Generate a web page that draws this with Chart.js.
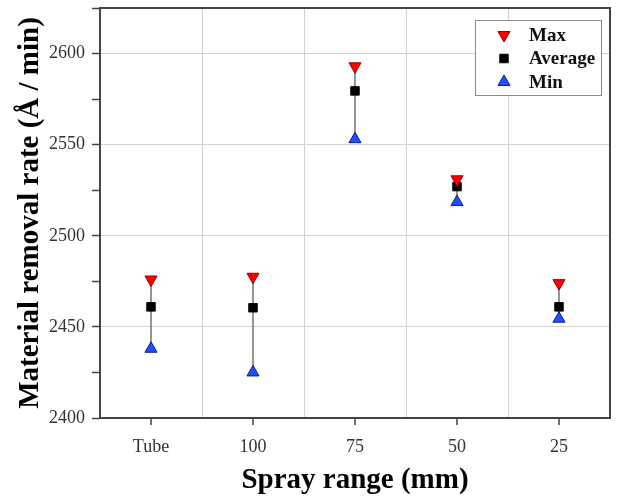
<!DOCTYPE html>
<html>
<head>
<meta charset="utf-8">
<script src="https://cdn.jsdelivr.net/npm/chart.js@4/dist/chart.umd.min.js"></script>
<style>
  html, body { margin:0; padding:0; background:#fff; overflow:hidden; }
  #wrap { width:618px; height:500px; position:relative; }
  canvas { display:block; }
</style>
</head>
<body>
<div id="wrap"><canvas id="c"></canvas></div>
<script>
// ── Data ──────────────────────────────────────────────────────
const CATEGORIES = ['Tube', '100', '75', '50', '25'];
const MAX_VALS   = [2476, 2477.5, 2593, 2531, 2474];
const AVG_VALS   = [2461, 2460.5, 2579.5, 2527, 2461];
const MIN_VALS   = [2438, 2425, 2553, 2518.5, 2454.5];
const Y_MIN = 2400, Y_MAX = 2625, Y_STEP = 25, Y_LABEL_STEP = 50;

const SERIF = '"Liberation Serif", "DejaVu Serif", serif';
const C = { max:'#ff0000', maxEdge:'#990000', min:'#1f4fff', minEdge:'#0a1f80',
            avg:'#000000', grid:'#d2d2d2', axis:'#444444', whisker:'#808080', text:'#333' };

// ── Plugins ───────────────────────────────────────────────────
const framePlugin = {
  id:'frame',
  afterDraw(chart) {
    const { ctx, chartArea:a, scales:{ x } } = chart;
    ctx.save();
    ctx.strokeStyle = C.axis;
    ctx.lineWidth = 2;
    ctx.strokeRect(a.left, a.top, a.right - a.left, a.bottom - a.top);
    // category tick marks below the x axis
    ctx.lineWidth = 1.5;
    CATEGORIES.forEach((_, i) => {
      const px = x.getPixelForValue(i);
      ctx.beginPath();
      ctx.moveTo(px, a.bottom);
      ctx.lineTo(px, a.bottom + 7);
      ctx.stroke();
    });
    ctx.restore();
  }
};

const boxLegend = {
  id:'boxLegend',
  afterDraw(chart) {
    const { ctx, chartArea:a } = chart;
    const left = a.right - 135, top = a.top + 12, w = 126, h = 75;
    ctx.save();
    ctx.fillStyle = '#fff';
    ctx.fillRect(left, top, w, h);
    ctx.strokeStyle = '#888';
    ctx.lineWidth = 1;
    ctx.strokeRect(left + 0.5, top + 0.5, w, h);
    ctx.font = 'bold 19px ' + SERIF;
    ctx.textBaseline = 'middle';
    chart.data.datasets.filter(d => d.inLegend).forEach((d, i) => {
      const y = top + 15 + i * 23.5;
      ctx.fillStyle = d.backgroundColor;
      ctx.strokeStyle = d.borderColor;
      ctx.lineWidth = d.borderWidth;
      Chart.helpers.drawPoint(ctx, { pointStyle:d.pointStyle, radius:d.pointRadius, borderWidth:d.borderWidth, rotation:d.rotation || 0 }, left + 29, y);
      ctx.fillStyle = '#111';
      ctx.fillText(d.label, left + 54, y + 1);
    });
    ctx.restore();
  }
};

// ── Chart ─────────────────────────────────────────────────────
new Chart(document.getElementById('c'), {
  data:{
    labels:CATEGORIES,
    datasets:[
      { type:'bar', label:'range', data:MIN_VALS.map((m, i) => [m, MAX_VALS[i]]),
        backgroundColor:C.whisker, barThickness:1, borderWidth:0, order:4 },
      { type:'line', label:'Max', data:MAX_VALS, showLine:false, inLegend:true,
        pointStyle:'triangle', rotation:180, pointRadius:7, borderWidth:1,
        backgroundColor:C.max, borderColor:C.maxEdge, order:1 },
      { type:'line', label:'Average', data:AVG_VALS, showLine:false, inLegend:true,
        pointStyle:'rect', pointRadius:6, borderWidth:1,
        backgroundColor:C.avg, borderColor:C.avg, order:2 },
      { type:'line', label:'Min', data:MIN_VALS, showLine:false, inLegend:true,
        pointStyle:'triangle', pointRadius:7, borderWidth:1,
        backgroundColor:C.min, borderColor:C.minEdge, order:3 },
    ]
  },
  options:{
    responsive:true, maintainAspectRatio:false, animation:false,
    layout:{ padding:{ top:0, right:5, left:9, bottom:0 } },
    plugins:{ legend:{ display:false }, tooltip:{ enabled:false } },
    scales:{
      x:{
        type:'category', offset:true,
        grid:{ offset:true, color:C.grid, lineWidth:1, drawTicks:false },
        border:{ display:false },
        ticks:{ color:C.text, padding:18, font:{ family:SERIF, size:18 } },
        title:{ display:true, text:'Spray range (mm)', color:'#000',
                font:{ family:SERIF, size:29, weight:'bold' }, padding:{ top:5, bottom:2 } },
        afterFit:s => { s.height = 82; s.paddingLeft = 0; s.paddingRight = 0; }
      },
      y:{
        min:Y_MIN, max:Y_MAX,
        grid:{ color:c => (c.tick && c.tick.value % Y_LABEL_STEP === 0 && c.tick.value !== Y_MIN) ? C.grid : 'transparent',
               tickColor:C.axis, tickLength:8, lineWidth:1, tickWidth:1.5 },
        border:{ display:false },
        ticks:{ stepSize:Y_STEP, autoSkip:false, color:C.text, padding:7,
                font:{ family:SERIF, size:18 },
                callback:v => (v % Y_LABEL_STEP === 0 ? v : '') },
        title:{ display:true, text:'Material removal rate (Å / min)', color:'#000',
                font:{ family:SERIF, size:29, weight:'bold' }, padding:{ top:4, bottom:1 } },
        afterFit:s => { s.width = 91; s.paddingTop = 8; s.paddingBottom = 0; }
      }
    }
  },
  plugins:[framePlugin, boxLegend]
});
</script>
</body>
</html>
